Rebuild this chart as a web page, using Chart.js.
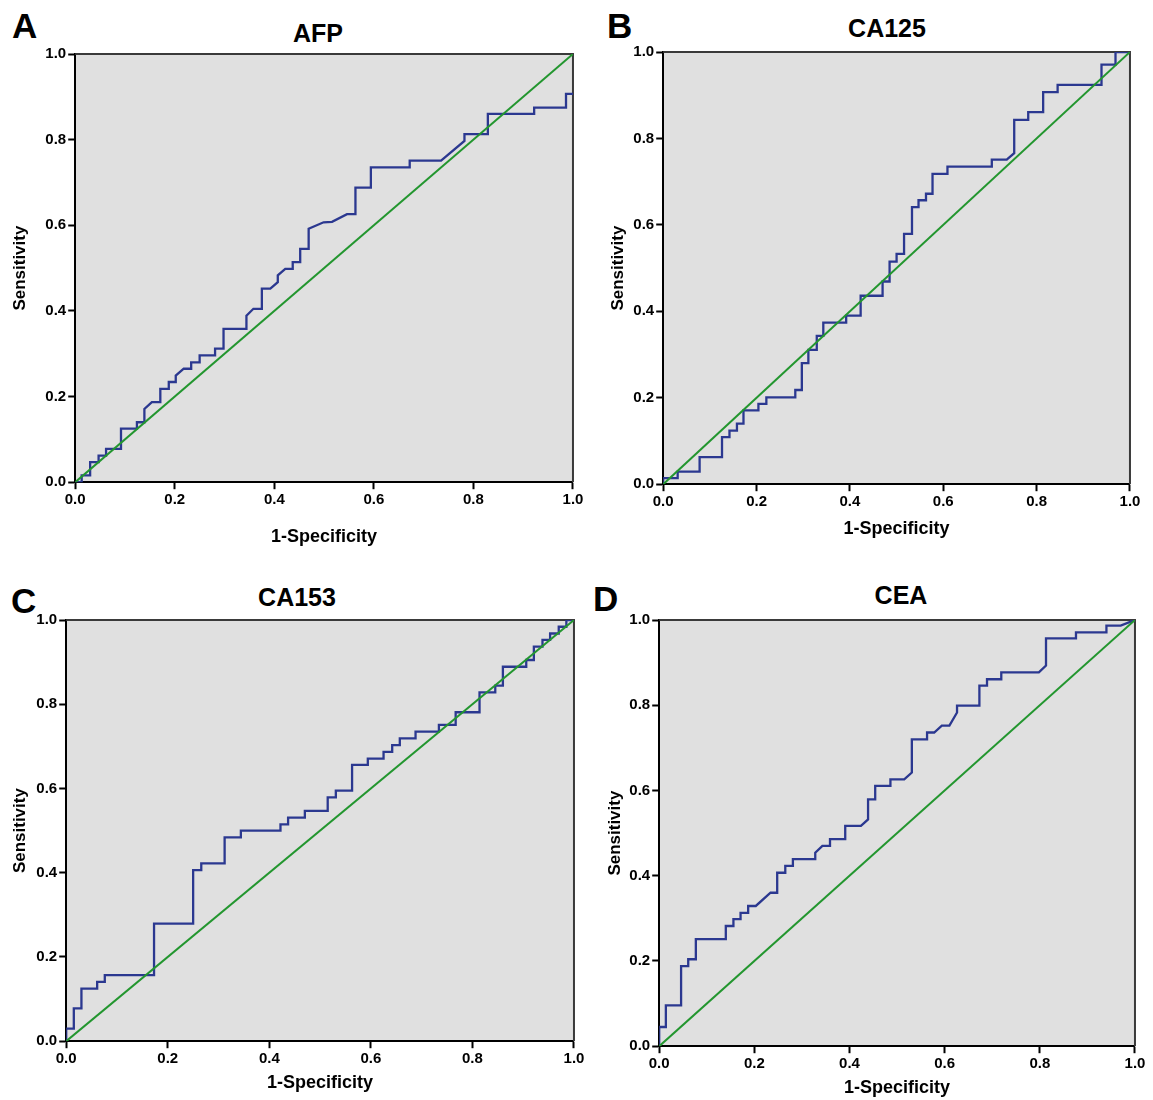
<!DOCTYPE html>
<html>
<head>
<meta charset="utf-8">
<script src="https://cdn.jsdelivr.net/npm/chart.js@4.4.1/dist/chart.umd.min.js"></script>
<style>
  body { margin: 0; background: #fff; width: 1153px; height: 1100px; position: relative; overflow: hidden;
         font-family: "Liberation Sans", Arial, sans-serif; color: #000; }
  .box { position: absolute; }
  .letter { position: absolute; font-size: 35px; font-weight: bold; line-height: 1; }
  .title { position: absolute; font-size: 25px; font-weight: bold; line-height: 1; transform: translateX(-50%); white-space: nowrap; }
</style>
</head>
<body>
<div class="letter" style="left:12px;top:8px">A</div>
<div class="letter" style="left:607px;top:8px">B</div>
<div class="letter" style="left:11px;top:583px">C</div>
<div class="letter" style="left:593px;top:581px">D</div>
<div class="title" style="left:318px;top:21px">AFP</div>
<div class="title" style="left:887px;top:16px">CA125</div>
<div class="title" style="left:297px;top:585px">CA153</div>
<div class="title" style="left:901px;top:583px">CEA</div>

<script>
// ROC curves: 1-specificity (x) and sensitivity (y)
const afpFpr = [0, 0.013, 0.013, 0.030, 0.030, 0.047, 0.047, 0.062, 0.062, 0.092, 0.092, 0.124, 0.124, 0.139, 0.139, 0.154,
  0.171, 0.171, 0.188, 0.188, 0.202, 0.202, 0.218, 0.233, 0.233, 0.250, 0.250, 0.281, 0.281, 0.298, 0.298, 0.344, 0.344,
  0.358, 0.375, 0.375, 0.392, 0.407, 0.407, 0.422, 0.437, 0.437, 0.452, 0.452, 0.469, 0.469, 0.499, 0.516, 0.546, 0.563,
  0.563, 0.594, 0.594, 0.672, 0.672, 0.735, 0.782, 0.782, 0.829, 0.829, 0.922, 0.922, 0.986, 0.986, 1.0];
const afpTpr = [0, 0, 0.016, 0.016, 0.047, 0.047, 0.062, 0.062, 0.078, 0.078, 0.125, 0.125, 0.140, 0.140, 0.171, 0.187,
  0.187, 0.218, 0.218, 0.234, 0.234, 0.249, 0.265, 0.265, 0.280, 0.280, 0.296, 0.296, 0.312, 0.312, 0.358, 0.358, 0.389,
  0.405, 0.405, 0.452, 0.452, 0.467, 0.483, 0.498, 0.498, 0.514, 0.514, 0.545, 0.545, 0.592, 0.607, 0.608, 0.626, 0.626,
  0.688, 0.688, 0.735, 0.735, 0.751, 0.751, 0.797, 0.813, 0.813, 0.860, 0.860, 0.875, 0.875, 0.907, 0.907];

const ca125Fpr = [0, 0, 0.031, 0.031, 0.078, 0.078, 0.126, 0.126, 0.142, 0.142, 0.158, 0.158, 0.172, 0.172, 0.204, 0.204,
  0.221, 0.221, 0.283, 0.283, 0.297, 0.297, 0.311, 0.311, 0.329, 0.329, 0.343, 0.343, 0.392, 0.392, 0.423, 0.423, 0.470,
  0.470, 0.485, 0.485, 0.500, 0.500, 0.516, 0.516, 0.533, 0.533, 0.547, 0.547, 0.563, 0.563, 0.577, 0.577, 0.609, 0.609,
  0.704, 0.704, 0.736, 0.752, 0.752, 0.782, 0.782, 0.814, 0.814, 0.845, 0.845, 0.939, 0.939, 0.969, 0.969, 1.0];
const ca125Tpr = [0, 0.014, 0.014, 0.029, 0.029, 0.0625, 0.0625, 0.109, 0.109, 0.124, 0.124, 0.140, 0.140, 0.171, 0.171,
  0.186, 0.186, 0.201, 0.201, 0.218, 0.218, 0.280, 0.280, 0.311, 0.311, 0.343, 0.343, 0.374, 0.374, 0.390, 0.390, 0.436,
  0.436, 0.469, 0.469, 0.515, 0.515, 0.533, 0.533, 0.579, 0.579, 0.641, 0.641, 0.657, 0.657, 0.672, 0.672, 0.718, 0.718,
  0.735, 0.735, 0.751, 0.751, 0.766, 0.843, 0.843, 0.861, 0.861, 0.907, 0.907, 0.924, 0.924, 0.971, 0.971, 1.0, 1.0];

const ca153Fpr = [0, 0, 0.015, 0.015, 0.030, 0.030, 0.061, 0.061, 0.076, 0.076, 0.173, 0.173, 0.250, 0.250, 0.266, 0.266,
  0.312, 0.312, 0.344, 0.344, 0.422, 0.422, 0.437, 0.437, 0.470, 0.470, 0.515, 0.515, 0.531, 0.531, 0.563, 0.563, 0.594,
  0.594, 0.625, 0.625, 0.642, 0.642, 0.657, 0.657, 0.688, 0.688, 0.734, 0.734, 0.767, 0.767, 0.814, 0.814, 0.845, 0.845,
  0.860, 0.860, 0.906, 0.906, 0.921, 0.921, 0.938, 0.938, 0.953, 0.953, 0.970, 0.970, 0.985, 0.985, 1.0];
const ca153Tpr = [0, 0.030, 0.030, 0.078, 0.078, 0.125, 0.125, 0.141, 0.141, 0.157, 0.157, 0.279, 0.279, 0.406, 0.406,
  0.422, 0.422, 0.484, 0.484, 0.500, 0.500, 0.515, 0.515, 0.531, 0.531, 0.547, 0.547, 0.579, 0.579, 0.595, 0.595, 0.656,
  0.656, 0.671, 0.671, 0.687, 0.687, 0.703, 0.703, 0.719, 0.719, 0.735, 0.735, 0.751, 0.751, 0.781, 0.781, 0.828, 0.828,
  0.844, 0.844, 0.889, 0.889, 0.905, 0.905, 0.937, 0.937, 0.953, 0.953, 0.968, 0.968, 0.984, 0.984, 1.0, 1.0];

const ceaFpr = [0, 0, 0.014, 0.014, 0.046, 0.046, 0.061, 0.061, 0.077, 0.077, 0.140, 0.140, 0.156, 0.156, 0.171, 0.171,
  0.187, 0.187, 0.203, 0.234, 0.248, 0.248, 0.265, 0.265, 0.281, 0.281, 0.328, 0.328, 0.343, 0.359, 0.359, 0.391, 0.391,
  0.424, 0.439, 0.439, 0.454, 0.454, 0.486, 0.486, 0.515, 0.531, 0.531, 0.563, 0.563, 0.578, 0.594, 0.610, 0.626, 0.626,
  0.673, 0.673, 0.689, 0.689, 0.719, 0.719, 0.798, 0.813, 0.813, 0.876, 0.876, 0.940, 0.940, 0.970, 1.0];
const ceaTpr = [0, 0.045, 0.045, 0.096, 0.096, 0.188, 0.188, 0.204, 0.204, 0.251, 0.251, 0.282, 0.282, 0.298, 0.298,
  0.313, 0.313, 0.329, 0.329, 0.360, 0.360, 0.407, 0.407, 0.423, 0.423, 0.439, 0.439, 0.454, 0.470, 0.470, 0.486, 0.486,
  0.517, 0.517, 0.532, 0.579, 0.579, 0.611, 0.611, 0.626, 0.626, 0.642, 0.720, 0.720, 0.736, 0.736, 0.752, 0.752, 0.783,
  0.799, 0.799, 0.846, 0.846, 0.861, 0.861, 0.877, 0.877, 0.893, 0.957, 0.957, 0.971, 0.971, 0.987, 0.987, 1.0];

const refFpr = [0, 1];
const refTpr = [0, 1];
const axisTicks = [0, 0.2, 0.4, 0.6, 0.8, 1.0];

Chart.defaults.font.family = '"Liberation Sans", Arial, sans-serif';
Chart.defaults.color = '#000';

// grey plot area with a thin frame on top and right
const plotFrame = {
  id: 'plotFrame',
  beforeDraw(chart) {
    const a = chart.chartArea, ctx = chart.ctx;
    ctx.save();
    ctx.fillStyle = '#e0e0e0';
    ctx.fillRect(a.left, a.top, a.right - a.left, a.bottom - a.top);
    ctx.restore();
  },
  beforeDatasetsDraw(chart) {
    const a = chart.chartArea, ctx = chart.ctx;
    ctx.save();
    ctx.strokeStyle = '#3a3a3a';
    ctx.lineWidth = 2;
    ctx.beginPath();
    ctx.moveTo(a.left, a.top);
    ctx.lineTo(a.right, a.top);
    ctx.lineTo(a.right, a.bottom);
    ctx.stroke();
    ctx.restore();
  }
};

function toPoints(xs, ys) {
  return xs.map((x, i) => ({ x: x, y: ys[i] }));
}

function axis(titleText, titleSize, fitFn) {
  return {
    type: 'linear', min: 0, max: 1,
    afterBuildTicks: s => { s.ticks = axisTicks.map(v => ({ value: v })); },
    afterFit: fitFn,
    grid: { drawOnChartArea: false, tickLength: 7, tickColor: '#000', tickWidth: 2 },
    border: { color: '#000', width: 2 },
    ticks: { color: '#000', padding: 2, maxRotation: 0, font: { size: 15, weight: 'bold' },
             callback: v => Number(v).toFixed(1) },
    title: { display: true, text: titleText, color: '#000', padding: 0, font: { size: titleSize, weight: 'bold' } }
  };
}

const panels = [
  { plot: [75, 54, 573, 482], yTitleX: 20, xTitleY: 537, xs: afpFpr, ys: afpTpr },
  { plot: [663, 52, 1130, 484], yTitleX: 618, xTitleY: 529, xs: ca125Fpr, ys: ca125Tpr },
  { plot: [66, 620, 574, 1041], yTitleX: 20, xTitleY: 1083, xs: ca153Fpr, ys: ca153Tpr },
  { plot: [659, 620, 1135, 1046], yTitleX: 615, xTitleY: 1088, xs: ceaFpr, ys: ceaTpr }
];

panels.forEach(p => {
  const [L, T, R, B] = p.plot;
  const hx = p.xTitleY - B + 10.8;
  const wy = L - p.yTitleX + 10.2;

  const box = document.createElement('div');
  box.className = 'box';
  box.style.left = (L - wy) + 'px';
  box.style.top = (T - 15) + 'px';
  box.style.width = (R - L + wy + 20) + 'px';
  box.style.height = (B - T + hx + 15) + 'px';
  const canvas = document.createElement('canvas');
  box.appendChild(canvas);
  document.body.appendChild(box);

  const chart = new Chart(canvas, {
    type: 'scatter',
    data: {
      datasets: [
        { data: toPoints(refFpr, refTpr), showLine: true, borderColor: '#23962f', borderWidth: 2, pointRadius: 0 },
        { data: toPoints(p.xs, p.ys), showLine: true, borderColor: '#2b3890', borderWidth: 2.3, pointRadius: 0,
          borderJoinStyle: 'miter' }
      ]
    },
    options: {
      responsive: true,
      maintainAspectRatio: false,
      animation: false,
      events: [],
      layout: { padding: 0 },
      plugins: { legend: { display: false }, tooltip: { enabled: false } },
      scales: {
        x: axis('1-Specificity', 18, s => { s.height = hx; }),
        y: axis('Sensitivity', 17, s => { s.width = wy; })
      }
    },
    plugins: [plotFrame]
  });

  // fit the canvas so the plot area lands where it is in the figure
  let a = chart.chartArea;
  box.style.width = (box.offsetWidth + (R - L) - (a.right - a.left)) + 'px';
  box.style.height = (box.offsetHeight + (B - T) - (a.bottom - a.top)) + 'px';
  chart.resize();
  a = chart.chartArea;
  box.style.top = (T - a.top) + 'px';
  box.style.left = (L - a.left) + 'px';
});
</script>
</body>
</html>
